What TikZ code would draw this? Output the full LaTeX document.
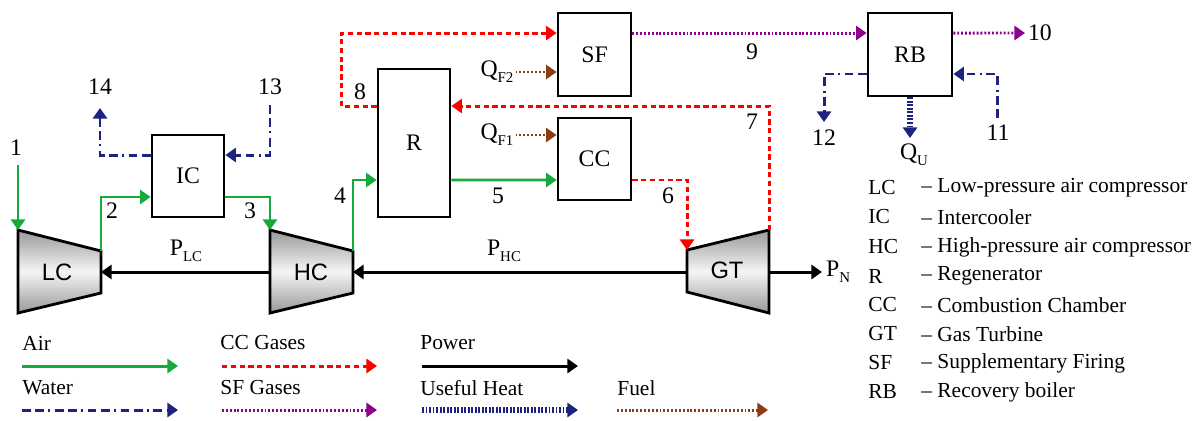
\documentclass[tikz,border=0pt]{standalone}
\usepackage{fontspec}
\setmainfont{Liberation Serif}
\newfontfamily\turbfont{Liberation Sans}
\usetikzlibrary{arrows.meta}

\definecolor{airgreen}{RGB}{20,170,60}
\definecolor{gasred}{RGB}{255,0,0}
\definecolor{sfpurple}{RGB}{140,0,140}
\definecolor{fuelbrown}{RGB}{140,60,20}
\definecolor{waterblue}{RGB}{30,35,130}
\newcommand{\lowsub}[1]{\raisebox{-0.55ex}{\fontsize{8.5}{9}\selectfont #1}}

\begin{document}
\begin{tikzpicture}[x=0.02cm,y=-0.02cm,
  unit/.style={draw,line width=1.6pt,inner sep=0pt,font=\fontsize{13.5}{15}\selectfont},
  turbine/.style={draw,line width=1.6pt,top color=black!40,bottom color=black!40,middle color=black!4},
  tlabel/.style={font=\turbfont\fontsize{13.5}{15}\selectfont},
  lbl/.style={font=\fontsize{13.5}{15}\selectfont,inner sep=1pt},
  key/.style={font=\fontsize{12.2}{14}\selectfont,anchor=west,inner sep=0pt},
  flow/.style={line width=1.7pt,-{Triangle[length=6pt,width=8pt]}},
  air/.style={flow,draw=airgreen},
  gas/.style={flow,draw=gasred,dash pattern=on 3pt off 2pt},
  sfgas/.style={flow,draw=sfpurple,dash pattern=on 1.1pt off 1.1pt},
  fuel/.style={flow,draw=fuelbrown,dash pattern=on 1.1pt off 1.1pt},
  water/.style={flow,draw=waterblue,dash pattern=on 5pt off 2.5pt on 5pt off 2.5pt on 1.2pt off 2.5pt},
  heat/.style={flow,draw=waterblue,line width=3pt,dash pattern=on 1.1pt off 0.9pt},
  power/.style={flow,draw=black}]
\useasboundingbox (0,0) rectangle (1193,420);

% units
\node[unit,minimum width=1.44cm,minimum height=1.64cm] (IC) at (188,176) {IC};
\node[unit,minimum width=1.44cm,minimum height=2.96cm] (R) at (414,143) {R};
\node[unit,minimum width=1.46cm,minimum height=1.66cm] (SF) at (594.5,54.5) {SF};
\node[unit,minimum width=1.46cm,minimum height=1.64cm] (CC) at (594.5,159) {CC};
\node[unit,minimum width=1.68cm,minimum height=1.66cm] (RB) at (910,54.5) {RB};

% turbomachines
\coordinate (LC-tl) at (18,230);
\coordinate (LC-tr) at (101,251);
\coordinate (LC-br) at (101,293);
\coordinate (LC-bl) at (18,313);
\coordinate (LC-mr) at (101,272);
\coordinate (HC-tl) at (270,230);
\coordinate (HC-tr) at (353,251);
\coordinate (HC-br) at (353,293);
\coordinate (HC-bl) at (270,313);
\coordinate (HC-ml) at (270,272);
\coordinate (HC-mr) at (353,272);
\coordinate (GT-tl) at (687,250);
\coordinate (GT-tr) at (769,230);
\coordinate (GT-br) at (769,313);
\coordinate (GT-bl) at (687,292);
\coordinate (GT-ml) at (687,272);
\coordinate (GT-mr) at (769,272);
\draw[turbine] (LC-tl) -- (LC-tr) -- (LC-br) -- (LC-bl) -- cycle;
\draw[turbine] (HC-tl) -- (HC-tr) -- (HC-br) -- (HC-bl) -- cycle;
\draw[turbine] (GT-tl) -- (GT-tr) -- (GT-br) -- (GT-bl) -- cycle;
\node[tlabel] (LC) at (57,272) {LC};
\node[tlabel] (HC) at (311,272) {HC};
\node[tlabel] (GT) at (727,270) {GT};

% free ends
\coordinate (in1) at (18,165);
\coordinate (out10) at (1025,33);
\coordinate (in11) at (997,118);
\coordinate (out12) at (824,122);
\coordinate (in13) at (270,105);
\coordinate (out14) at (100,108);
\coordinate (outQU) at (910,138);
\coordinate (outPN) at (822,272);

% air
\draw[air] (in1) -- (LC-tl);
\draw[air] (LC-tr) |- ([yshift=-0.42cm]IC.west);
\draw[air] ([yshift=-0.42cm]IC.east) -| (HC-tl);
\draw[air] (HC-tr) |- ([yshift=-0.74cm]R.west);
\draw[air] ([yshift=-0.74cm]R.east) -- ([yshift=-0.42cm]CC.west);

% combustion gases
\draw[gas] ([yshift=-0.42cm]CC.east) -| (GT-tl);
\draw[gas] (GT-tr) |- ([yshift=0.74cm]R.east);
\draw[gas] ([yshift=0.74cm]R.west) -- ++(-35,0) |- ([yshift=0.43cm]SF.west);

% supplementary firing gases
\draw[sfgas] ([yshift=0.43cm]SF.east) -- ([yshift=0.43cm]RB.west);
\draw[sfgas] ([yshift=0.43cm]RB.east) -- (out10);

% fuel
\node[lbl] (QF2) at (497,72) {Q\lowsub{F2}};
\node[lbl] (QF1) at (497,135) {Q\lowsub{F1}};
\draw[fuel] (QF2.east) -- (QF2.east -| SF.west);
\draw[fuel] (QF1.east) -- (QF1.east -| CC.west);

% water
\draw[water] (in13) |- ([yshift=0.42cm]IC.east);
\draw[water] ([yshift=0.42cm]IC.west) -| (out14);
\draw[water] (in11) |- ([yshift=-0.39cm]RB.east);
\draw[water] ([yshift=-0.39cm]RB.west) -| (out12);

% useful heat
\draw[heat] (RB.south) -- (outQU);

% power
\draw[power] (HC-ml) -- (LC-mr);
\draw[power] (GT-ml) -- (HC-mr);
\draw[power] (GT-mr) -- (outPN);

% state points
\node[lbl] (n1) at (16,148) {1};
\node[lbl] (n2) at (112,211) {2};
\node[lbl] (n3) at (250,211) {3};
\node[lbl] (n4) at (340,196) {4};
\node[lbl] (n5) at (498,196) {5};
\node[lbl] (n6) at (668,196) {6};
\node[lbl] (n7) at (752,122) {7};
\node[lbl] (n8) at (360,92) {8};
\node[lbl] (n9) at (752,52) {9};
\node[lbl,anchor=west] (n10) at (1026,33) {10};
\node[lbl] (n11) at (998,133) {11};
\node[lbl] (n12) at (824,138) {12};
\node[lbl] (n13) at (270,87) {13};
\node[lbl] (n14) at (100,87) {14};
\node[lbl] (PLC) at (186,251) {P\lowsub{LC}};
\node[lbl] (PHC) at (504,251) {P\lowsub{HC}};
\node[lbl,anchor=west] (PN) at (824,272) {P\lowsub{N}};
\node[lbl] (QU) at (914,155) {Q\lowsub{U}};

% abbreviations
\node[key] (kLC) at (868,188) {LC};
\node[key] (kIC) at (868,217) {IC};
\node[key] (kHC) at (868,247) {HC};
\node[key] (kR) at (868,276) {R};
\node[key] (kCC) at (868,305) {CC};
\node[key] (kGT) at (868,334) {GT};
\node[key] (kSF) at (868,363) {SF};
\node[key] (kRB) at (868,392) {RB};
\node[key] (dLC) at (921,188) {-- Low-pressure air compressor};
\node[key] (dIC) at (921,217) {-- Intercooler};
\node[key] (dHC) at (921,247) {-- High-pressure air compressor};
\node[key] (dR) at (921,276) {-- Regenerator};
\node[key] (dCC) at (921,305) {-- Combustion Chamber};
\node[key] (dGT) at (921,334) {-- Gas Turbine};
\node[key] (dSF) at (921,363) {-- Supplementary Firing};
\node[key] (dRB) at (921,392) {-- Recovery boiler};

% line legend
\node[key] (lgAir) at (22,343) {Air};
\node[key] (lgCC) at (220,343) {CC Gases};
\node[key] (lgPow) at (420,343) {Power};
\node[key] (lgWat) at (22,388) {Water};
\node[key] (lgSF) at (220,388) {SF Gases};
\node[key] (lgHeat) at (420,388) {Useful Heat};
\node[key] (lgFuel) at (617,388) {Fuel};
\draw[air] (lgAir.west) ++(0,23) -- ++(156,0);
\draw[gas] (lgCC.west) ++(2,23) -- ++(155,0);
\draw[power] (lgPow.west) ++(2,23) -- ++(156,0);
\draw[water] (lgWat.west) ++(0,22) -- ++(156,0);
\draw[sfgas] (lgSF.west) ++(2,22) -- ++(155,0);
\draw[heat] (lgHeat.west) ++(2,22) -- ++(156,0);
\draw[fuel] (lgFuel.west) ++(0,22) -- ++(151,0);
\end{tikzpicture}
\end{document}
